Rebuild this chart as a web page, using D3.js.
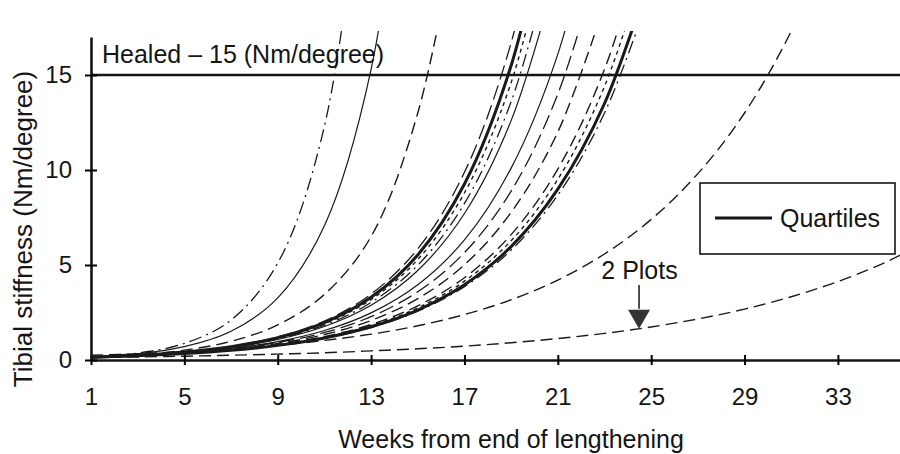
<!DOCTYPE html>
<html>
<head>
<meta charset="utf-8">
<script src="https://cdn.jsdelivr.net/npm/d3@7"></script>
<style>
  body { margin: 0; background: #fff; }
  text { font-family: "Liberation Sans", Arial, Helvetica, sans-serif; fill: #151515; }
</style>
</head>
<body>
<div id="chart-area"></div>
<script>
const weeks = [1, 3, 5, 7, 9, 11, 13, 15, 17, 19, 21, 23, 25, 27, 29, 31, 33, 35, 37];
const xTicks = [1, 5, 9, 13, 17, 21, 25, 29, 33];
const yTicks = [0, 5, 10, 15];
const healedLevel = 15;

// tibial stiffness (Nm/degree) per patient, one value per week above
const fast1 = [0.15, 0.36, 0.87, 2.1, 5.1, 12.3, 29.7];
const fast2 = [0.15, 0.32, 0.70, 1.51, 3.27, 7.07, 15.3, 33.0];
const fast3 = [0.15, 0.28, 0.52, 0.98, 1.85, 3.45, 6.5, 13.0, 25.0];
const mid1 = [0.15, 0.25, 0.43, 0.72, 1.22, 2.05, 3.47, 5.85, 9.88, 16.7, 28.1];
const quartileUpper = [0.15, 0.25, 0.42, 0.70, 1.18, 1.97, 3.30, 5.53, 9.26, 15.5, 25.9];
const mid2 = [0.15, 0.25, 0.415, 0.69, 1.15, 1.91, 3.18, 5.29, 8.8, 14.6, 24.3];
const mid3 = [0.15, 0.25, 0.41, 0.67, 1.11, 1.83, 3.03, 4.99, 8.24, 13.6, 22.4];
const mid4 = [0.15, 0.245, 0.40, 0.66, 1.08, 1.76, 2.88, 4.71, 7.71, 12.6, 20.6];
const mid5 = [0.15, 0.24, 0.38, 0.61, 0.97, 1.55, 2.48, 3.96, 6.32, 10.1, 16.1, 25.7];
const mid6 = [0.15, 0.24, 0.37, 0.59, 0.92, 1.45, 2.28, 3.59, 5.65, 8.89, 14.0, 22.0];
const mid7 = [0.15, 0.23, 0.36, 0.56, 0.87, 1.34, 2.08, 3.23, 5.01, 7.77, 12.0, 18.7];
const mid8 = [0.15, 0.23, 0.35, 0.53, 0.81, 1.23, 1.87, 2.85, 4.33, 6.6, 10.05, 15.3, 23.3];
const mid9 = [0.15, 0.23, 0.34, 0.52, 0.79, 1.19, 1.81, 2.74, 4.15, 6.28, 9.51, 14.4, 21.8];
const quartileLower = [0.15, 0.23, 0.34, 0.51, 0.77, 1.16, 1.75, 2.63, 3.96, 5.97, 8.99, 13.5, 20.4];
const mid10 = [0.15, 0.225, 0.34, 0.51, 0.76, 1.14, 1.71, 2.57, 3.86, 5.79, 8.68, 13.0, 19.5];
const slow1 = [0.25, 0.33, 0.44, 0.58, 0.77, 1.03, 1.36, 1.80, 2.39, 3.17, 4.21, 5.58, 7.40, 9.81, 13.0, 17.3, 22.9];
const slow2 = [0.13, 0.16, 0.20, 0.25, 0.31, 0.38, 0.48, 0.59, 0.73, 0.91, 1.13, 1.40, 1.74, 2.16, 2.68, 3.33, 4.13, 5.12, 6.36];

// line styles
const styles = {
    solid:    {w: 1.2, dash: null},
    thick:    {w: 3,   dash: null},
    dashed:   {w: 1.4, dash: "12,6"},
    longdash: {w: 1.3, dash: "15,6"},
    dashdot:  {w: 1.3, dash: "13,5,2,5"},
    dotted:   {w: 1.4, dash: "4,4"}
};

// thin curves first, quartiles drawn on top
const curves = [
    {values: fast1, style: "dashdot"},
    {values: fast2, style: "solid"},
    {values: fast3, style: "dashed"},
    {values: mid1, style: "longdash"},
    {values: mid2, style: "dotted"},
    {values: mid3, style: "dashdot"},
    {values: mid4, style: "solid"},
    {values: mid5, style: "solid"},
    {values: mid6, style: "longdash"},
    {values: mid7, style: "dashed"},
    {values: mid8, style: "dashed"},
    {values: mid9, style: "dotted"},
    {values: mid10, style: "dashdot"},
    {values: slow1, style: "dashed"},
    {values: slow2, style: "dashed"},
    {values: quartileUpper, style: "thick"},
    {values: quartileLower, style: "thick"}
];

const canvasWidth = 900;
const canvasHeight = 454;

var svg = d3.select("#chart-area")
    .append("svg")
        .attr("width", canvasWidth)
        .attr("height", canvasHeight);

// scales
var x = d3.scaleLinear()
    .domain([1, 35.66])
    .range([91, 900]);
var y = d3.scaleLinear()
    .domain([0, 17])
    .range([360, 37]);

// clip so the curves stop just above the axis top
svg.append("clipPath")
    .attr("id", "plot-clip")
  .append("rect")
    .attr("x", x(1))
    .attr("y", 31)
    .attr("width", x(35.66) - x(1))
    .attr("height", y(0) - 31);

var line = d3.line()
    .x((d, i) => x(weeks[i]))
    .y(d => y(d))
    .curve(d3.curveCatmullRom.alpha(0.5));

svg.append("g")
    .attr("clip-path", "url(#plot-clip)")
  .selectAll("path")
  .data(curves)
  .enter()
  .append("path")
    .attr("d", d => line(d.values))
    .attr("fill", "none")
    .attr("stroke", "#1a1a1a")
    .attr("stroke-width", d => styles[d.style].w)
    .attr("stroke-dasharray", d => styles[d.style].dash);

// healed threshold
svg.append("line")
    .attr("x1", x(1))
    .attr("x2", x(35.66))
    .attr("y1", y(healedLevel))
    .attr("y2", y(healedLevel))
    .attr("stroke", "#151515")
    .attr("stroke-width", 2.6);

svg.append("text")
    .attr("x", x(1) + 11)
    .attr("y", y(healedLevel) - 12)
    .attr("font-size", "25px")
    .text("Healed \u2013 15 (Nm/degree)");

// axes
var xAxis = d3.axisBottom(x)
    .tickValues(xTicks)
    .tickSizeInner(5)
    .tickSizeOuter(0);
var xAxisGroup = svg.append("g")
    .attr("transform", "translate(0," + y(0) + ")")
    .call(xAxis);
xAxisGroup.selectAll(".tick line").attr("y1", -5).attr("stroke-width", 2);
xAxisGroup.selectAll(".tick text")
    .attr("y", 45)
    .attr("dy", null)
    .attr("font-size", "24px")
    .attr("font-family", "Liberation Sans, Arial, sans-serif")
    .attr("fill", "#151515");

var yAxis = d3.axisLeft(y)
    .tickValues(yTicks)
    .tickSizeInner(5)
    .tickSizeOuter(0);
var yAxisGroup = svg.append("g")
    .attr("transform", "translate(" + x(1) + ",0)")
    .call(yAxis);
yAxisGroup.selectAll(".tick line").attr("x2", 6).attr("x1", -6).attr("stroke-width", 2);
yAxisGroup.selectAll(".tick text")
    .attr("x", -19)
    .attr("font-size", "24px")
    .attr("font-family", "Liberation Sans, Arial, sans-serif")
    .attr("fill", "#151515");

svg.selectAll(".domain")
    .attr("stroke", "#151515")
    .attr("stroke-width", 2.6);

// axis titles
svg.append("text")
    .attr("x", 511)
    .attr("y", 448)
    .attr("font-size", "25px")
    .attr("text-anchor", "middle")
    .text("Weeks from end of lengthening");

svg.append("text")
    .attr("transform", "rotate(-90)")
    .attr("x", -229)
    .attr("y", 32)
    .attr("font-size", "26px")
    .attr("text-anchor", "middle")
    .text("Tibial stiffness (Nm/degree)");

// legend
var legend = svg.append("g")
    .attr("transform", "translate(700,183)");
legend.append("rect")
    .attr("width", 195)
    .attr("height", 71)
    .attr("fill", "#fff")
    .attr("stroke", "#151515")
    .attr("stroke-width", 1.6);
legend.append("line")
    .attr("x1", 15).attr("x2", 72)
    .attr("y1", 35).attr("y2", 35)
    .attr("stroke", "#151515")
    .attr("stroke-width", 3);
legend.append("text")
    .attr("x", 80)
    .attr("y", 44)
    .attr("font-size", "25px")
    .text("Quartiles");

// "2 Plots" annotation
svg.append("text")
    .attr("x", x(24.5))
    .attr("y", y(4.25))
    .attr("font-size", "25px")
    .attr("text-anchor", "middle")
    .text("2 Plots");
svg.append("line")
    .attr("x1", x(24.48)).attr("x2", x(24.48))
    .attr("y1", y(3.95)).attr("y2", y(2.7))
    .attr("stroke", "#151515")
    .attr("stroke-width", 1.5);
svg.append("path")
    .attr("d", "M" + (x(24.48) - 11) + "," + y(2.65) +
               "L" + (x(24.48) + 11) + "," + y(2.65) +
               "L" + x(24.48) + "," + y(1.65) + "Z")
    .attr("fill", "#333");
</script>
</body>
</html>
